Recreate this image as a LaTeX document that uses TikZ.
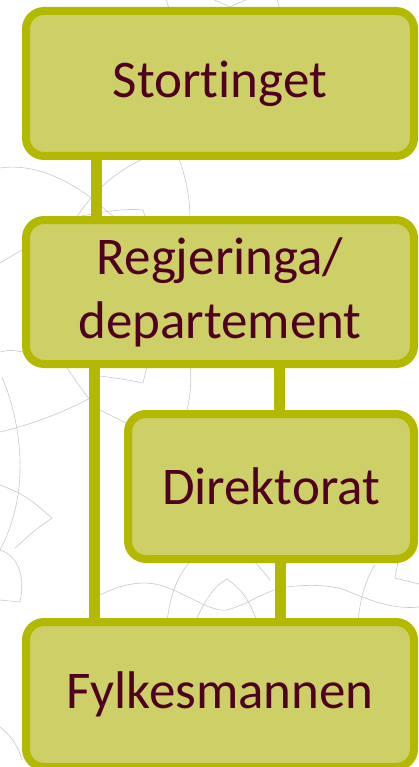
\documentclass[tikz,border=0pt]{standalone}
\usepackage{fontspec}
\setmainfont{Carlito}[Ligatures=NoCommon]
\usepackage{xcolor}
\definecolor{orgborder}{HTML}{B2B900}
\definecolor{orgfill}{HTML}{CCD066}
\definecolor{orgtext}{HTML}{500020}
\definecolor{orgline}{HTML}{C8C8C8}

\begin{document}
\begin{tikzpicture}[x=1pt, y=-1pt,
  orgbox/.style={draw=orgborder, fill=orgfill, line width=8pt, rounded corners=18pt,
    text=orgtext, font=\fontsize{53}{64}\selectfont, inner sep=0pt, align=center,
    minimum width=388pt, minimum height=145pt},
  orglink/.style={draw=orgborder, line width=11pt},
  ornament/.style={draw=orgline, line width=0.6pt}]
  \useasboundingbox (0,0) rectangle (419,767);

  % Background ornament
  \draw[ornament] (165,-5) .. controls (167,2) .. (170,12);
  \draw[ornament] (200,-5) .. controls (215,0) .. (230,7) .. controls (245,0) .. (262,-5);
  \draw[ornament] (276,-5) .. controls (278,2) .. (280,12);
  \draw[ornament] (0,168) .. controls (35,163) and (70,180) .. (100,205) .. controls (108,212) .. (120,222);
  \draw[ornament] (75,220) .. controls (90,195) and (115,170) .. (150,156);
  \draw[ornament] (178,156) .. controls (187,180) and (190,200) .. (190,220);
  \draw[ornament] (72,218) .. controls (100,212) and (125,208) .. (143,210) -- (146,220);
  \draw[ornament] (0,263) -- (22,250);
  \draw[ornament] (0,352) .. controls (10,350) .. (24,352);
  \draw[ornament] (66,366) .. controls (75,380) and (82,390) .. (90,400) .. controls (95,405) .. (100,410);
  \draw[ornament] (100,376) .. controls (115,378) and (130,380) .. (143,383) -- (147,366);
  \draw[ornament] (190,364) .. controls (192,380) and (190,400) .. (186,414);
  \draw[ornament] (0,432) .. controls (30,425) and (65,412) .. (90,398);
  \draw[ornament] (100,410) .. controls (110,415) and (120,420) .. (126,423);
  \draw[ornament] (2,377) .. controls (20,420) and (25,470) .. (15,510) .. controls (10,530) and (5,540) .. (0,550);
  \draw[ornament] (0,485) .. controls (25,495) .. (52,518) .. controls (35,530) .. (15,548);
  \draw[ornament] (0,550) .. controls (20,556) and (25,580) .. (20,602) -- (0,600);
  \draw[ornament] (100,595) .. controls (120,585) and (140,580) .. (160,585)
    .. controls (190,595) and (210,612) .. (227,610) .. controls (245,605) and (260,595) .. (274,590);
  \draw[ornament] (195,622) .. controls (205,600) and (215,585) .. (227,579)
    .. controls (240,588) and (250,600) .. (257,622);
  \draw[ornament] (167,622) .. controls (170,595) and (178,575) .. (190,562);
  \draw[ornament] (255,562) .. controls (262,570) .. (270,580);
  \draw[ornament] (287,587) .. controls (310,584) and (335,585) .. (350,592)
    .. controls (380,605) and (400,609) .. (419,607);
  \draw[ornament] (358,622) .. controls (360,600) and (365,580) .. (375,565);
  \draw[ornament] (398,562) -- (395,578) -- (419,584);
  \draw[ornament] (0,727) .. controls (10,735) and (18,745) .. (22,760);

  % Boxes
  \node[orgbox] (storting) at (220,83.5) {Stortinget};
  \node[orgbox, minimum height=144pt] (regjering) at (220,292) {Regjeringa/\\departement};
  \node[orgbox, minimum width=286pt] (direktorat) at (271,486.5) {Direktorat};
  \node[orgbox] (fylkesmann) at (220,694.5) {Fylkesmannen};

  % Links
  \draw[orglink] ([xshift=-124pt]storting.south) -- ([xshift=-124pt]regjering.north);
  \draw[orglink] ([xshift=-126pt]regjering.south) -- ([xshift=-126pt]fylkesmann.north);
  \draw[orglink] ([xshift=8pt]direktorat.north |- regjering.south) -- ([xshift=8pt]direktorat.north);
  \draw[orglink] ([xshift=9pt]direktorat.south) -- ([xshift=9pt]direktorat.south |- fylkesmann.north);
\end{tikzpicture}
\end{document}
